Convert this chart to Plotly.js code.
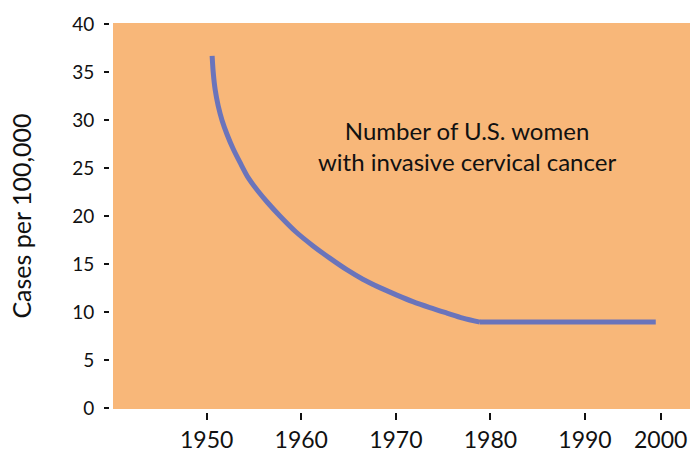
<!DOCTYPE html>
<html>
<head>
<meta charset="utf-8">
<script src="https://cdn.plot.ly/plotly-3.0.1.min.js"></script>
<style>html,body{margin:0;padding:0;background:#fff;}#chart{width:692px;height:452px;}</style>
</head>
<body>
<div id="chart"></div>
<script>
// Data
const years = [1950.58, 1950.69, 1950.90, 1951.22, 1951.64, 1952.17, 1952.80, 1953.54, 1954.39, 1955.40,
               1956.46, 1957.72, 1959.42, 1961.22, 1963.02, 1964.81, 1966.51, 1968.31, 1970.11, 1971.80,
               1973.60, 1975.40, 1977.09, 1978.89, 1997.48];
const cases = [36.68, 35.02, 33.15, 31.48, 29.92, 28.46, 27.00, 25.55, 23.99, 22.63,
               21.38, 20.03, 18.36, 16.91, 15.61, 14.41, 13.42, 12.54, 11.76, 11.08,
               10.46, 9.89, 9.37, 8.95, 8.95];
const xTickVals = [1950, 1960, 1970, 1980, 1990, 1998];
const xTickText = ['1950', '1960', '1970', '1980', '1990', '2000'];
const yTickVals = [0, 5, 10, 15, 20, 25, 30, 35, 40];
const yTitle = 'Cases per 100,000';
const noteText = 'Number of U.S. women<br>with invasive cervical cancer';

const W = 692, H = 452;
const mL = 100, mR = 2, mT = 23, mB = 30;
const pw = W - mL - mR, ph = H - mT - mB;
const plotLeft = 113, plotBottom = 409;
const xd0 = (plotLeft - mL) / pw;
const yd0 = ((H - mB) - plotBottom) / ph;
const yPos = (109 - mL) / pw;
const xPos = ((H - mB) - 412) / ph;

const font = 'Lato, "Noto Sans", sans-serif';
const lineStyle = {color: '#6a74bb', width: 5};
const n = years.length;

// curved decline (smoothed) and the flat plateau (straight), sharing the corner point
const curve = {
  x: years.slice(0, n - 1), y: cases.slice(0, n - 1), type: 'scatter', mode: 'lines',
  line: Object.assign({shape: 'spline', smoothing: 0.8}, lineStyle),
  hoverinfo: 'skip', showlegend: false
};
const plateau = {
  x: years.slice(n - 2), y: cases.slice(n - 2), type: 'scatter', mode: 'lines',
  line: Object.assign({shape: 'linear'}, lineStyle),
  hoverinfo: 'skip', showlegend: false
};

const layout = {
  width: W, height: H,
  margin: {l: mL, r: mR, t: mT, b: mB, pad: 0},
  paper_bgcolor: '#ffffff',
  plot_bgcolor: '#f8b779',
  font: {family: font, color: '#111'},
  xaxis: {
    domain: [xd0, 1], range: [1940.1, 2001.1], anchor: 'free', position: xPos,
    tickmode: 'array', tickvals: xTickVals, ticktext: xTickText,
    ticks: 'outside', ticklen: 7, tickwidth: 2, tickcolor: '#111',
    showline: false, showgrid: false, zeroline: false,
    tickfont: {size: 23, family: font, color: '#111'}
  },
  yaxis: {
    domain: [yd0, 1], range: [-0.1, 40.1], anchor: 'free', position: yPos,
    tickmode: 'array', tickvals: yTickVals,
    ticks: 'outside', ticklen: 5, tickwidth: 2, tickcolor: '#111',
    showline: false, showgrid: false, zeroline: false,
    tickfont: {size: 19, family: font, color: '#111'},
    ticklabelstandoff: 6,
    title: {text: yTitle, font: {size: 25, family: font, color: '#111'}, standoff: 32}
  },
  annotations: [{
    xref: 'paper', yref: 'paper', xanchor: 'center', yanchor: 'middle',
    x: xd0 + (467 - plotLeft) / (W - mR - plotLeft) * (1 - xd0),
    y: ((H - mB) - 146) / ph,
    text: noteText, showarrow: false, align: 'center',
    font: {size: 24, family: font, color: '#111'}
  }]
};

Plotly.newPlot('chart', [curve, plateau], layout, {displayModeBar: false, staticPlot: true});
</script>
</body>
</html>
